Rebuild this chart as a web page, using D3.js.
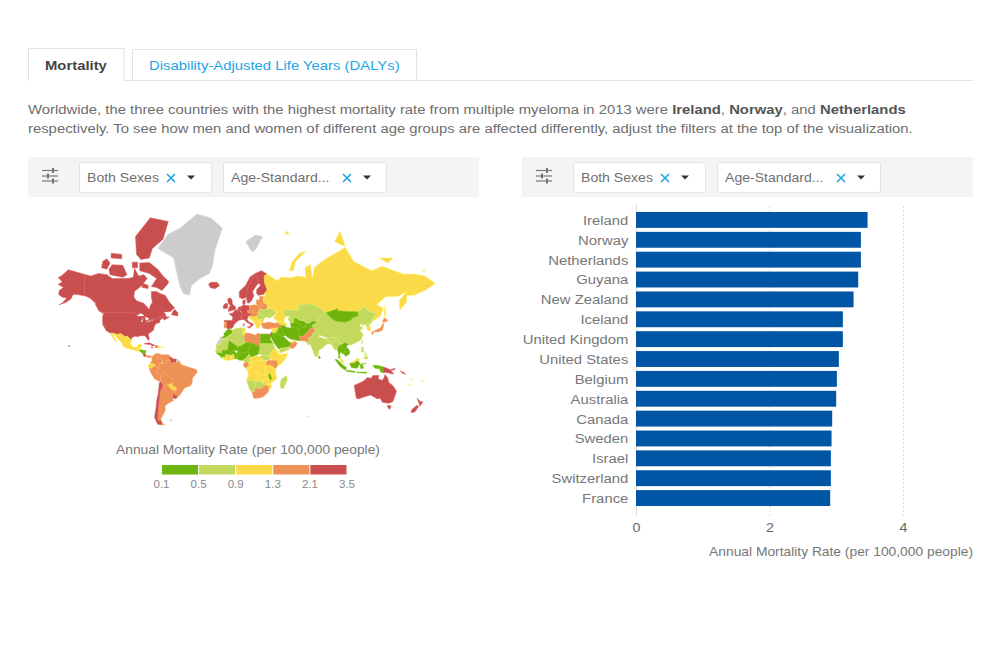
<!DOCTYPE html>
<html>
<head>
<meta charset="utf-8">
<script src="https://cdnjs.cloudflare.com/ajax/libs/d3/7.8.5/d3.min.js"></script>
<style>
  body { margin: 0; background: #fff; }
  svg { display: block; }
  text { font-family: "Liberation Sans", Arial, sans-serif; }
</style>
</head>
<body>
<svg id="chart" width="1000" height="650"></svg>
<script>
/* global d3 */

// bar chart values
var countries = ["Ireland", "Norway", "Netherlands", "Guyana", "New Zealand", "Iceland", "United Kingdom",
  "United States", "Belgium", "Australia", "Canada", "Sweden", "Israel", "Switzerland", "France"];
var rates = [3.47, 3.37, 3.37, 3.33, 3.26, 3.10, 3.10, 3.04, 3.01, 3.00, 2.94, 2.93, 2.92, 2.92, 2.91];
var barTicks = [0, 2, 4];

// map legend
var legendBreaks = [0.1, 0.5, 0.9, 1.3, 2.1, 3.5];
var legendColors = ["#6eb40f", "#c2d85f", "#fbda4a", "#ee9156", "#c94f50"];
var noDataColor = "#cccccc";

var axisTitle = "Annual Mortality Rate (per 100,000 people)";

// map: [name, rate bin value (null = no data), outline rings as "lon,lat" strings]
var northAmerica = [
  ["Greenland", null, "-72,77.5 -62,80.5 -51,81.5 -35,83.5 -22,83 -11,81.5 -18,77 -20,73 -23,70 -32,68 -40,65 -42,60 -48,61 -51,64.5 -54,70 -57,75"],
  ["United States", 3.04, "-123,49 -95,49 -88,48 -84.5,46.5 -82.5,45.5 -83,42 -79,43 -75,45 -71,45 -69.5,47.3 -67,45.2 -70,43.5 -70,41.7 -74,40.5 -75.5,37.5 -76,35 -81,31.5 -80,27 -80.5,25.2 -82,27 -84,30 -89,30 -90,29 -94,29.5 -97,27.5 -97,25.8 -101,29.7 -103,29 -106.5,31.7 -111,31.3 -114.8,32.5 -117,32.5 -120.5,34.5 -124,40 -124,46",
    "-141,69.6 -148,70.4 -156.5,71.3 -163,69 -166,68.4 -162,66.5 -166,65.5 -161,64 -165,62.5 -165.5,60.5 -162,59 -158,58.5 -162,55.5 -165,54.5 -159,55.8 -154,58 -152,60.5 -148,60.5 -144,60 -139,59.5 -135,58 -131,55.5 -130,56 -134,58.5 -137.5,59 -141,60.3",
    "-156,20.2 -155,20 -155.5,19 -156,19.3"],
  ["Canada", 2.94, "-141,69.6 -135,69 -128,70 -120,69.5 -115,68 -108,68 -100,68 -95,68.5 -94,71.8 -90,69 -85,69.5 -82,68 -87,65 -94,62 -94.5,59 -92,57 -85,55.3 -82,53 -80,51.3 -79,54 -77,56 -78,59 -78,62 -73,62 -70,61 -65,60 -61,56 -56,52.5 -60,50 -67,49.5 -65,48.5 -64,46 -61,46 -66,43.5 -67,45.2 -69.5,47.3 -71,45 -75,45 -79,43.5 -83,42 -82.5,45.5 -88,48 -95,49 -123,49 -128,51 -131,55 -130,56 -134,58.5 -137.5,59 -141,60.3",
    "-62,66 -68,62.5 -73,64 -78,64.5 -73,68 -80,70 -89,71 -89,73.5 -80,73.7 -72,71.5 -67,69 -62,67",
    "-117,69.5 -105,68.5 -101,69.5 -105,72.8 -115,73 -118,71.5",
    "-125,72 -120,71.5 -117,73.5 -120,74.8 -124,74",
    "-93,80 -79,83 -62,82.5 -67,79.5 -77,77.5 -80,75 -88,74.6 -92,76",
    "-116,75 -106,74.8 -106,76 -116,76.3",
    "-96,72 -91,72 -91,73.8 -96,73.8",
    "-87,64 -81,63.5 -81,65 -86,66",
    "-59,47.7 -53,46.7 -53,49 -56,51.5 -58,49.5",
    "-128,50.7 -123.5,48.4 -125,50"],
  ["Mexico", 1.1, "-117,32.5 -114.8,32.5 -111,31.3 -106.5,31.7 -103,29 -101,29.7 -97,25.8 -97.8,22 -95,18.6 -91,18.7 -90.5,21 -87,21.5 -88,18 -89,17.8 -91,17.2 -92,14.5 -95,16 -101,17.3 -105.5,20 -105.5,22.5 -109,26 -113,31 -114.7,31 -112,27 -109.7,23 -112,25 -115,29"],
  ["Guatemala", 1.0, "-92,14.5 -91,17.2 -89,17.8 -88.5,16 -89.3,14.4"],
  ["Honduras", 0.3, "-89.3,14.4 -88.2,15.8 -83.2,15 -87,13"],
  ["Nicaragua", 0.4, "-87.5,13 -83.2,15 -83.7,11 -85.7,11"],
  ["Costa Rica", 2.3, "-85.7,11 -83.7,11 -82.6,9.5 -85,8.5"],
  ["Panama", 1.6, "-82.9,9.5 -79.5,9.6 -77.3,8.5 -78,7.5 -80.5,7.5 -82.9,8.2"],
  ["Cuba", 2.4, "-85,22 -80,23.2 -74.2,20.2 -77.5,19.9 -78,21"],
  ["Haiti", 2.2, "-74.4,18.4 -72,18 -72,20 -73.5,20"],
  ["Dominican Republic", 1.1, "-72,18 -68.5,18.5 -70,19.8 -72,20"],
  ["Jamaica", 2.3, "-78.3,18.5 -76.3,18.2 -76.3,17.8 -78.3,18"],
  ["Puerto Rico", 1.2, "-67.3,18.5 -65.6,18.5 -65.6,17.9 -67.3,17.9"]
];

var southAmerica = [
  ["Colombia", 1.5, "-77.3,8.5 -75,11 -72,12.3 -71.3,11 -72.5,7.5 -67.5,6 -67.8,2 -70,1 -69.8,-4.2 -73,-2.3 -75,0 -79,1.5 -77.5,4"],
  ["Venezuela", 1.6, "-72,12 -68,10.6 -62,10.7 -60,8.5 -61,5.2 -64,4 -64,1.5 -67,1 -67.5,6 -72.5,7.5 -71.3,11"],
  ["Guyana", 3.33, "-60,8.5 -57.2,6 -58,2 -60,1.2 -60,5 -61,5.2"],
  ["Suriname", 2.4, "-57.2,6 -54,5.9 -54.5,2.3 -58,2"],
  ["French Guiana", null, "-54,5.9 -51.6,4.2 -53,2.2 -54.5,2.3"],
  ["Ecuador", 1.1, "-79,1.5 -75,0 -75.3,-1.5 -78,-4.5 -80.3,-3.4 -81,-1"],
  ["Peru", 1.5, "-80.3,-3.4 -78,-4.5 -75.3,-1.5 -73,-2.3 -69.9,-4.2 -73,-7 -73,-9.5 -69.5,-11 -69,-16 -70.4,-18.3 -75,-15.5 -79,-8"],
  ["Bolivia", 1.5, "-69.5,-11 -65.4,-9.7 -60,-13.5 -58,-17 -58,-20 -62.6,-22 -67,-23 -69,-19 -69,-16"],
  ["Paraguay", 1.2, "-62.6,-22 -58,-20 -58,-22 -54.5,-24 -54.6,-27 -58.5,-27.2"],
  ["Brazil", 1.7, "-60,5 -60,1.2 -58,2 -54.5,2.3 -53,2.2 -51.6,4.2 -50,0 -44,-2.5 -37,-5 -35,-6 -35,-9 -39,-14 -39.5,-19 -41,-22.5 -47,-25 -48.5,-28 -52,-32.5 -53.5,-33.7 -57.6,-30.2 -54,-27 -54.6,-25 -54.5,-24 -58,-22 -58,-17 -60,-13.5 -65.4,-9.7 -69.5,-11 -73,-9.5 -73,-7 -69.9,-4.2 -70,1 -67,1 -64,1.5 -64,4 -61,5.2"],
  ["Uruguay", 2.5, "-57.6,-30.2 -53.5,-33.7 -55,-35 -58.4,-34"],
  ["Argentina", 1.9, "-67,-23 -62.6,-22 -58.5,-27.2 -54.6,-27 -57.6,-30.2 -58.4,-34 -57,-36.5 -62,-39 -65,-41 -65,-45 -69,-51 -68.5,-53 -65.5,-55 -68.5,-54.8 -72,-52 -72,-48 -71.5,-42 -70.5,-35 -70,-29 -68.5,-24.5"],
  ["Chile", 2.4, "-69.5,-18 -69,-19 -67,-23 -68.5,-24.5 -70,-29 -70.5,-35 -71.5,-42 -72,-48 -72,-52 -68.5,-52.5 -68.5,-54.8 -72,-54.5 -75,-50 -73.5,-42 -73,-37 -71.5,-30 -70.5,-20"],
  ["Falkland Islands", null, "-61,-51.5 -58,-51.5 -58,-52.3 -61,-52.3"]
];

var europe = [
  ["Iceland", 3.10, "-24,65.5 -22,66.4 -16,66.4 -13.6,65 -18,63.4 -22.5,64"],
  ["Svalbard", null, "11,79 20,80.3 27,80 20,77 17,76.6"],
  ["Norway", 3.37, "5,59 5,62 11,65 15,68.5 20,70 26,71 31,69.8 28.5,69 25,69 21,69 18,68.5 14,65 12,61.5 11.5,59 8,58"],
  ["Sweden", 2.93, "11.5,59 12,61.5 14,65 18,68.5 21,69 24,66 22,65.5 17.5,62 18.8,59.8 16.5,57 14.3,55.5 12.8,55.5"],
  ["Finland", 2.6, "21,69 25,69 28.5,69 29,66 31.5,62.8 28,60.5 23,60 21.3,61 21.5,63 25,65 24,66"],
  ["Denmark", 2.8, "8.2,57 10.5,57.6 10.8,55.5 9.5,54.8 8.3,55"],
  ["United Kingdom", 3.10, "-5.5,50 1.5,51.3 1.5,53 -1.5,55 -2,57.5 -3.5,58.6 -6,58 -5,55 -3,54 -4.5,53 -5,51.7"],
  ["Ireland", 3.47, "-10,52 -6.2,52.2 -6,54 -6,55.2 -8.2,55.2 -10,54"],
  ["France", 2.91, "1.5,51 8.2,49 7.5,47.5 6,46.2 7.5,44 4,43.2 3,42.4 -1.7,43.3 -1,46 -4.7,48.4 -1.6,48.7"],
  ["Spain", 2.3, "-9.2,43.2 -1.7,43.3 3,42.4 0,40 -0.7,38 -2,36.8 -5.5,36 -7.4,37.2 -6.8,41.9 -8.8,41.9"],
  ["Portugal", 1.9, "-8.8,41.9 -6.8,41.9 -7.4,37.2 -9,37 -9.5,38.8"],
  ["Netherlands", 3.37, "3.5,51.5 4.7,53 7.1,53.3 6.1,50.8"],
  ["Belgium", 3.01, "2.6,51 3.5,51.5 6.1,50.8 5.8,49.5"],
  ["Germany", 2.7, "6.1,50.8 7.1,53.3 9,54.8 11,54 14.2,53.9 15,51 12.2,50.3 13.8,48.7 10,47.5 7.5,47.6 8.2,49"],
  ["Switzerland", 2.92, "6,46.2 7.5,47.6 10,47.5 10,46.3 8,46"],
  ["Austria", 2.6, "10,47.5 13.8,48.7 17,48.7 16,46.7 10,46.5"],
  ["Italy", 2.7, "7,44 7,45.8 10,46.7 13.7,46.5 12.3,44.3 14,42 18.5,40.2 16.6,38 15.7,38 15.7,40 12,41.8 10,43.8",
    "12.5,38 15.5,38.2 15,36.7", "8.3,39 9.7,41 9.6,39"],
  ["Czech Republic", 1.8, "12.2,50.3 15,51 18.8,49.6 17,48.7 13.8,48.7"],
  ["Poland", 1.7, "14.2,53.9 19,54.4 23.5,54 24,50.5 22.5,49.1 18.8,49.6 15,51"],
  ["Baltic States", 1.7, "21,56 21.5,57.5 24,57.2 24,59.4 28,59.4 27.5,57.5 28,56 26,54 23.5,54 21,55"],
  ["Belarus", 1.6, "23.5,54 26,54 28,56 31,55 32,53 30.5,51.4 24,51.5"],
  ["Ukraine", 0.8, "24,50.5 24,51.5 30.5,51.4 34,52.3 40,49.7 38,47 35,46 33.5,44.5 32,46 30,45.5 28.5,45.5 26,48 22.5,48.2 22.5,49.1"],
  ["Hungary", 1.6, "17,48.7 18.8,49.6 22.5,49.1 22.5,48.2 21,46.2 16.5,46 16,46.7"],
  ["Romania", 0.8, "21,46.2 22.5,48.2 26,48 28.5,45.5 28.5,43.8 23,43.8"],
  ["Bulgaria", 1.1, "23,43.8 28.5,43.8 27.5,42 23,41.4"],
  ["Balkans", 1.1, "13.7,46.5 16,46.7 16.5,46 21,46.2 23,43.8 23,41.4 26,41 24,38 23,36.5 21.5,37 19.5,41 18.5,42.5 15,44.5"]
];

var africa = [
  ["Morocco", 0.3, "-13,27.7 -9,30 -9.8,31.5 -6,35.8 -2,35.1 -1.2,32.5 -5,30 -8.7,27.7"],
  ["Western Sahara", null, "-17,21 -13,21.3 -13,23 -12,26 -8.7,26 -8.7,27.7 -13,27.7 -15,24.5"],
  ["Algeria", 0.7, "-8.7,27.7 -5,30 -1.2,32.5 -2,35.1 2,36.8 8.5,36.9 8.3,33 9.5,30 10,25 12,23.5 6,19.5 3.2,19 1,21 -4.8,25 -8.7,27"],
  ["Tunisia", 1.1, "8.5,36.9 11,37 10.2,34 11.5,32.5 9.5,30 8.3,33"],
  ["Libya", 1.7, "9.5,30 11.5,32.5 15,32.3 20,30.5 23,32.5 25,31.5 25,20 24,19.5 16,23 14,22.5 12,23.5 10,25"],
  ["Egypt", 0.4, "25,31.5 31,31.5 34.3,31.3 34.9,29.5 34,27 37,22 25,22"],
  ["Sudan", 0.7, "24,19.5 25,20 25,22 37,22 38.5,18 36.5,14.5 34,10 27,9.5 24,12 22.5,13 24,15.5"],
  ["South Sudan", 0.7, "24,9 27,9.5 34,10 34,4.5 27.5,5"],
  ["Eritrea", 1.1, "36.5,14.5 38.5,18 43,12.8 40,14.5"],
  ["Ethiopia", 1.1, "34,10 36.5,14.5 40,14.5 42.5,11 48,8 44,4.7 41,4 36,4.5 34,7"],
  ["Somalia", 1.1, "43,11 51,12 48,5 42,-1.5 41,2 41,4 44,4.7 48,8 42.5,11"],
  ["Kenya", 1.6, "34,4.5 36,4.5 41,4 41,2 41,-1.5 39.3,-4.6 34,-1"],
  ["Uganda", 1.6, "30,-1.2 30,2 31,3.7 34,4.5 34,-1"],
  ["Tanzania", 1.1, "30,-1 34,-1 39.3,-4.6 39.5,-10.2 35,-11.5 34,-9.5 31,-8.5 29.5,-6"],
  ["Mauritania", 0.7, "-17,16 -16.5,19 -17,21 -13,21.3 -13,23 -12,26 -8.7,26 -8.7,27 -4.8,25 -6,15.5 -12,15"],
  ["Mali", 0.4, "-12,15 -6,15.5 -4.8,25 1,21 3.2,19 4,15 0,15 -3,12.5 -5,10.5 -8,10.5 -11.5,12.4"],
  ["Senegal", 0.7, "-17.5,14.7 -16.5,16.5 -14,16.5 -12,15 -11.5,12.4 -16.7,12.4"],
  ["Guinea", 0.4, "-16.7,12.4 -11.5,12.4 -8,10.5 -8,8 -10.5,8.5 -13.3,9.5"],
  ["Sierra Leone", 0.4, "-13.3,9.5 -10.5,8.5 -11.4,6.9"],
  ["Liberia", 1.1, "-11.4,6.9 -8,8 -7.5,4.4"],
  ["Ivory Coast", 1.1, "-8,8 -8,10.5 -3,10 -3,5 -7.5,4.4"],
  ["Burkina Faso", 0.4, "-5,10.5 -3,12.5 0,15 2.4,12 0,11 -3,10"],
  ["Ghana", 1.1, "-3,10 0,11 1,6 -3,5"],
  ["Togo and Benin", 0.4, "0,11 2.4,12 3.6,11.5 2.8,6.3 1,6"],
  ["Niger", 0.3, "2.4,12 4,15 3.2,19 6,19.5 12,23.5 14,22.5 15.5,20 13.5,13.5 8,13 3.6,11.5"],
  ["Nigeria", 0.4, "2.8,6.3 3.6,11.5 8,13 13.5,13.5 14.5,11.5 11,6.5 8.5,4.6 5.5,4.5"],
  ["Chad", 0.4, "13.5,13.5 15.5,20 14,22.5 16,23 24,19.5 24,15.5 22.5,13 24,12 19,9 15.5,7.6 14.5,11.5"],
  ["Cameroon", 0.7, "8.5,4.6 11,6.5 14.5,11.5 15.5,7.6 14.5,5 16,2 9.8,2.3"],
  ["Central African Republic", 1.1, "14.5,5 15.5,7.6 19,9 24,9 27.5,5 19,3.5 16,2.5"],
  ["Gabon", 1.6, "9.8,2.3 13.5,2.2 14.5,-2 11,-4 8.7,-1"],
  ["Congo", 1.1, "13.5,2.2 16,2 18,3.5 16,-2 14,-4.5 12,-5 11,-4 14.5,-2"],
  ["DR Congo", 1.1, "18,3.5 19,3.5 27.5,5 31,3.7 30,2 29.5,-6 31,-8.5 28.5,-9 29.5,-12 26,-11.5 22,-11 22,-7 17,-7 16,-6 12.3,-6 14,-4.5 16,-2"],
  ["Angola", 1.1, "12.3,-6 13,-8.5 13.8,-11 11.8,-17.2 19,-17.3 23,-18 22,-11 22,-7 17,-7 16,-6"],
  ["Zambia", 1.1, "22,-11 26,-11.5 29.5,-12 28.5,-9 31,-8.5 34,-9.5 33,-14 30,-15.5 26,-17.8 23,-18"],
  ["Mozambique", 1.1, "35,-11.5 39.5,-10.2 40.5,-15 34.8,-20 35.5,-24 32.8,-26.5 32,-24 33,-19 30.4,-16 33,-14 34.3,-16.5 35.7,-16 34.5,-11"],
  ["Malawi", 0.4, "33,-9.5 34.5,-11 35.7,-16 34.3,-16.5 33,-14"],
  ["Zimbabwe", 1.1, "26,-17.8 30,-15.5 33,-16 33,-19 31,-22.3 29,-22"],
  ["Namibia", 0.7, "11.8,-17.2 19,-17.3 23,-18 25,-17.8 20,-18.5 20,-28 17,-28.7 15,-27"],
  ["Botswana", 0.7, "20,-18.5 25,-17.8 29,-22 25.5,-25.5 20,-25"],
  ["South Africa", 1.7, "17,-28.7 20,-28 20,-25 25.5,-25.5 29,-22 32,-22.3 32.8,-26.5 32.5,-28.5 28,-33 25,-34 20,-34.8 18.3,-34"],
  ["Madagascar", 0.7, "49.3,-12 50.5,-16 47,-25 44,-25 43.5,-21 44.5,-16"]
];

var asia = [
  ["Russia", 1.1, "28.5,69 31,69.8 41,67 44,68.5 54,68.3 60,69 68,68.5 67,72 72,73 74,68 76,72 81,73.5 88,75 105,77.7 113,74 130,71 140,72.5 160,69.7 170,69.8 180,69 190,66 187,64.8 180,62.5 170,60 163,60 163,56 156.5,51 156,57 163,62 155,59.5 143,59.3 135,54.7 141,52 138,46.5 132,43 131,45 135,48.5 127,50 123,53.5 117,49.7 108,50 98,50.5 98,52 87,49 77,54 69,55.3 61,54 61,51 55,50.7 51,51.5 47,50 47,48 49,46.5 47,43 48,41.8 46,42 40,43.5 37,45 39,47 40,49.7 34,52.3 32,53 31,55 28,56 27.5,57.5 28,59.4 30,60 28,60.5 31.5,62.8 29,66",
    "52,71 56,71 58,74 68,76.8 62,76.3 55,74", "95,79 105,78 100,81", "48,80.5 52,80.5 50,81", "137,75 150,75 145,73.5", "178,71.3 181,71 178,70.8", "142,54 143.5,49 142,46 142,50"],
  ["Turkey", 1.7, "26,40 26.5,42 28,41 33,42 38,41 41.5,41.5 44.5,39.7 44.8,37.2 36,36.6 32,36 27.5,36.8"],
  ["Caucasus", 1.1, "40,43.5 46,42 50,40.5 49,38.4 44.5,39.7 41.5,41.5"],
  ["Syria", 1.1, "36,36.6 42,37 41,34.3 36.5,32.5 35.7,34.5"],
  ["Iraq", 0.4, "42,37 44.8,37.2 46,34 48,30 46,29 42,31.5 39,32.5 41,34.3"],
  ["Jordan", 0.4, "35.5,32.5 39,32.5 37,30 35,29.5"],
  ["Israel", 2.92, "34.3,31.3 35,33.2 35.6,33 35.5,30 34.9,29.5"],
  ["Saudi Arabia", 0.3, "35,29.5 37,30 39,32.5 42,31.5 46,29 48,28.3 50,26 51.5,24.5 55,22.5 52,19 48,18 43.5,17.3 42.5,16.5 39,21 35,28"],
  ["Yemen", 0.7, "43,12.8 43.5,17.3 48,18 52,19 53,16.6 45,13"],
  ["Oman", 1.6, "52,19 55,22.5 56.4,24.9 58.7,23.5 59.8,22.5 57.8,19 55,17"],
  ["United Arab Emirates", 1.1, "51.5,24.5 55,22.5 56.4,24.9 54,24.2"],
  ["Iran", 0.4, "44.5,39.7 48,38.5 50,37.3 54,36.9 56,38 61,36.5 61,31.5 63,27 61.5,25 57,26 54,26.5 51,28 49,30 48,30 46,34 44.8,37.2"],
  ["Afghanistan", 0.3, "61,36.5 64.5,37.3 71,38.3 74.8,37.3 71,36 69.5,33 66.5,31 66,29.5 61,29.5 61,31.5"],
  ["Pakistan", 1.6, "61.5,25 63,27 61,29.5 66,29.5 66.5,31 69.5,33 71,36 74.8,37.3 77.5,35.5 74.5,32 74,30 70,27 71,24.3 68,23.7 67,24.8"],
  ["Turkmenistan", 0.4, "53,41.5 56,41.3 58,42.5 61,41 64.5,38.5 66.5,37.5 64.5,37.3 61,36.5 56,38 54,36.9 53.8,39"],
  ["Uzbekistan", 0.4, "56,41.3 56,45 58.5,45.5 62,43.5 66,43 68,41 71,41 70,39.8 67.5,39.5 66.5,37.5 64.5,38.5 61,41 58,42.5"],
  ["Kyrgyzstan and Tajikistan", 0.4, "68,41 71,41 74,43 80,42.3 76,40.3 73.8,39.5 74.8,37.3 71,38.3 67.7,37 67.5,39.5"],
  ["Kazakhstan", 0.7, "47,50 51,51.5 55,50.7 61,51 61,54 69,55.3 77,54 87,49 83,47 80,45 80,42.3 74,43 71,41 68,41 66,43 62,43.5 58.5,45.5 56,45 56,41.3 53,41.5 51,44.5 53,46.5 49,46.5 47,48"],
  ["China", 0.7, "74,39 80,42.3 80,45 83,47 87,49 91,45.5 96,42.7 105,41.8 111,43.7 111,45 117,46.7 117,49.7 123,53.5 127,50 135,48.5 131,45 130.5,42.5 124.5,40 121,39 121,41 118,39 122,37 119,35 122,31 120,26 114,22.5 110,20.5 108,21.6 105,23 102,21.5 99,23 98,28 92,28 88,28 81,30.5 78.5,33 74.8,37"],
  ["Mongolia", 0.3, "87,49 98,52 98,50.5 108,50 117,49.7 117,46.7 111,45 111,43.7 105,41.8 96,42.7 91,45.5"],
  ["North Korea", 0.7, "124.5,40 130.5,42.5 129.7,41 127.5,39.8 128.3,38.5 125,37.8"],
  ["South Korea", 1.1, "125,37.8 128.3,38.5 129.4,35.5 126.5,34.4"],
  ["Japan", 1.7, "130.9,34 136,33.5 140,35 141,38 141.5,41.2 139.9,40 138.5,37.3 135.5,35.6", "130,33.5 131.7,33.5 131,31 130,31.5", "140,42 141.8,45.4 145.3,43.3 143,42"],
  ["Taiwan", 0.7, "120.2,23 121,25.2 121.8,24.8 120.9,22"],
  ["India", 0.7, "68,23.7 71,24.3 70,27 74,30 74.5,32 77.5,35.5 78.5,33 81,30.5 80,28.7 88,26.5 88,28 92,28 97,28.3 94,23.5 92,23 91.5,25 88.5,25 88.8,22 87,21 82,16.5 80,15 80,12 78,8.2 76.5,9 73,19 72.5,21 70,21"],
  ["Bangladesh", 0.7, "88.5,25 91.5,25 92,21 90,22 88.8,22"],
  ["Sri Lanka", 0.3, "80,9.7 81.8,7.5 80.5,6 79.8,7.5"],
  ["Myanmar", 0.7, "92,23 94,23.5 97,28.3 98,28 99,23 101,21 98.5,19 98,16 99,10 98,14 97,16.5 95,16 94,18 92.5,20.5"],
  ["Thailand", 0.4, "98,16 98.5,19 100,20.4 102,18 104.5,17.5 105.5,14.5 102.5,12 100.8,13.3 99.5,11 100,8 101,6.6 100,6.5 98.5,8 99,10"],
  ["Laos and Vietnam", 0.4, "102,21.5 105,23 108,21.6 106,19 109,15 109.2,11.5 105,8.7 104.8,10.3 102.5,12 105.5,14.5 104.5,17.5 102,18 100,20.4"],
  ["Malaysia", 1.1, "100,6.5 101,6.6 103.4,4 104,1.4 101.3,2.8", "109.7,1.6 113,3.2 116.7,7 119,5 117,4 113,1.4"],
  ["Indonesia", 0.4, "95.3,5.6 97.5,5.2 103.5,-1 106,-3 105.8,-5.8 104,-5.5 100,-2",
    "105.3,-6.5 108.5,-6.5 114.5,-7.6 114.5,-8.6 106.5,-7.5",
    "109,1.5 113,1.4 117,4 119,1 116.3,-4 111,-3.5 110,-1",
    "119.5,0.5 125,1.5 121,0 122.9,-4.5 121,-3 120.5,-5.5 119.4,-3.5",
    "131,-1 134,-0.8 138,-1.6 141,-2.6 141,-9 138,-8 138,-5 133,-4",
    "116,-8.3 125,-8.2 125,-9.5 116,-9"],
  ["Philippines", 0.7, "120,18.5 122.2,18.4 122,15 124,13 120.5,13.8", "122,7 125.5,9.7 126.5,7 125.3,5.7", "122,10 125,12.5 125,10.5"]
];

var oceania = [
  ["Papua New Guinea", 2.4, "141,-2.6 145,-4.3 148,-6 150.7,-10.5 147,-9.5 143.5,-8.5 141,-9", "148,-5.5 152,-4.2 152,-5.5 149,-6.3"],
  ["Solomon Islands", 2.3, "157,-7 160,-8.5 162,-10.5 159,-9.5"],
  ["Vanuatu", 1.1, "166.5,-15 168,-16 168,-17 166.8,-16"],
  ["New Caledonia", 1.1, "164,-20 167,-22 166.5,-22.3 164,-20.6"],
  ["Fiji", 1.1, "177.3,-17.5 178.7,-17.5 178.7,-18.3 177.3,-18.3"],
  ["Australia", 3.00, "113.5,-22 114,-26 115.5,-34.5 118,-35 124,-33 129,-31.5 135,-35 138,-34.5 140,-38 146,-39 150,-37.5 153.5,-28 150,-22.5 146,-19 145.3,-15 142.7,-10.9 141,-16 139,-17 136,-15 137,-12 131,-12 129.5,-15 126,-14 122,-18 117,-20.5", "144.7,-40.8 148.3,-41 147.5,-43.5 146,-43.5"],
  ["New Zealand", 3.26, "172.7,-34.5 176,-37.5 178.4,-37.8 175.5,-41.5 174.7,-39", "172.7,-40.6 174.3,-41.7 170.7,-45.9 167,-46.3 168,-44"],
  ["Kerguelen", null, "69,-49 70.5,-49 70.5,-49.8 69,-49.8"]
];

var lakes = [
  "-92,46.7 -88,48.7 -84.7,47 -87,46.5",
  "-87.8,42 -85.5,45.7 -86.5,42",
  "-84,46 -80,45 -82,43 -83.5,44",
  "-83.5,41.6 -79,42.8 -76,44 -76.3,43.4 -79.5,43.2 -79,42.3"
];

var svg = d3.select("#chart");

// the reference is stretched sideways, so text is widened by the same factor
var stretch = 1.1;
var mapStretch = 1.156;

svg.append("defs").append("filter").attr("id", "soft")
  .append("feGaussianBlur").attr("stdDeviation", 0.35);

function label(parent, x, y, str, size, color, anchor, weight) {
  return parent.append("text")
    .attr("transform", "translate(" + x + "," + y + ") scale(" + stretch + ",1)")
    .attr("font-size", size)
    .attr("fill", color)
    .attr("text-anchor", anchor || "start")
    .attr("font-weight", weight || "normal")
    .text(str);
}

// tabs
var tabs = svg.append("g").attr("fill", "none").attr("stroke", "#e2e2e2");
tabs.append("path").attr("d", "M28.5,81V48.5H124V81M124,80.5H973");
tabs.append("path").attr("d", "M132.5,81V49.5H416.5V81");
label(svg, 45, 70, "Mortality", 13.5, "#444444", "start", "bold");
label(svg, 149, 70, "Disability-Adjusted Life Years (DALYs)", 13.5, "#1fa5e5");

// intro text
var line1 = label(svg, 28, 114, "Worldwide, the three countries with the highest mortality rate from multiple myeloma in 2013 were ", 13.5, "#6e6e6e");
[["Ireland", true], [", ", false], ["Norway", true], [", and ", false], ["Netherlands", true]].forEach(function(part) {
  line1.append("tspan").attr("font-weight", part[1] ? "bold" : "normal").attr("fill", part[1] ? "#555555" : "#6e6e6e").text(part[0]);
});
label(svg, 28, 133, "respectively. To see how men and women of different age groups are affected differently, adjust the filters at the top of the visualization.", 13.5, "#6e6e6e");

// filter bars
function filterBar(x0) {
  var g = svg.append("g").attr("transform", "translate(" + x0 + ",157)");
  g.append("rect").attr("width", 451).attr("height", 40).attr("fill", "#f4f4f4");

  var icon = g.append("g").attr("stroke", "#777777").attr("stroke-width", 1.2);
  [[13.5, 25], [19, 20], [24, 25]].forEach(function(s) {
    icon.append("line").attr("x1", 14).attr("x2", 30).attr("y1", s[0]).attr("y2", s[0]);
    icon.append("line").attr("x1", s[1]).attr("x2", s[1]).attr("y1", s[0] - 2.5).attr("y2", s[0] + 2.5).attr("stroke-width", 2);
  });

  [[51, 132, "Both Sexes", 143], [195, 163, "Age-Standard...", 319]].forEach(function(b) {
    g.append("rect").attr("x", b[0] + 0.5).attr("y", 5.5).attr("width", b[1]).attr("height", 30)
      .attr("rx", 2).attr("fill", "#fff").attr("stroke", "#e4e4e4");
    label(g, b[0] + 8, 25, b[2], 12.8, "#707070");
    g.append("path").attr("d", "M" + (b[3] - 4) + ",17l8,8m0,-8l-8,8").attr("stroke", "#1fa5e5").attr("stroke-width", 1.6).attr("fill", "none");
    g.append("path").attr("d", "M" + (b[3] + 16) + ",18.5h8l-4,4z").attr("fill", "#333333");
  });
}
filterBar(28);
filterBar(522);

// map
var projection = d3.geoProjection(function(lambda, phi) {
  return [mapStretch * lambda, Math.log(Math.tan(Math.PI / 4 + phi / 2))];
})
  .rotate([-11, 0])
  .scale(52.5)
  .translate([245.65, 364.5])
  .precision(0);

var path = d3.geoPath(projection);

function parseRing(text) {
  var ring = text.split(" ").map(function(p) { return p.split(",").map(Number); });
  ring.push(ring[0]);
  var poly = { type: "Polygon", coordinates: [ring] };
  // d3 wants clockwise rings, otherwise the polygon covers the whole globe
  if (d3.geoArea(poly) > 2 * Math.PI) ring.reverse();
  return poly;
}

function toFeature(row) {
  return {
    type: "Feature",
    properties: { name: row[0], rate: row[1] },
    geometry: { type: "MultiPolygon", coordinates: row.slice(2).map(function(r) { return parseRing(r).coordinates; }) }
  };
}

var colorScale = d3.scaleThreshold().domain(legendBreaks.slice(1, -1)).range(legendColors);

function rateColor(rate) {
  return rate === null ? noDataColor : colorScale(rate);
}

var land = [].concat(northAmerica, southAmerica, europe, africa, asia, oceania).map(toFeature);

var map = svg.append("g").attr("class", "map").attr("filter", "url(#soft)");

map.selectAll("path.country")
  .data(land)
  .join("path")
  .attr("class", "country")
  .attr("d", path)
  .attr("fill", function(d) { return rateColor(d.properties.rate); })
  .attr("stroke", function(d) { return d3.color(rateColor(d.properties.rate)).brighter(0.25); })
  .attr("stroke-width", 0.5);

map.selectAll("path.lake")
  .data(lakes.map(parseRing))
  .join("path")
  .attr("class", "lake")
  .attr("d", path)
  .attr("fill", "#fff");

// legend
var legendX = d3.scalePoint().domain(legendBreaks).range([161.5, 347]);
var legend = svg.append("g");
label(legend, 248, 454, axisTitle, 12.55, "#777777", "middle");
legend.selectAll("rect")
  .data(legendColors)
  .join("rect")
  .attr("x", function(d, i) { return legendX(legendBreaks[i]) + 0.5; })
  .attr("width", function(d, i) { return legendX(legendBreaks[i + 1]) - legendX(legendBreaks[i]) - 1; })
  .attr("y", 465)
  .attr("height", 9.5)
  .attr("fill", function(d) { return d; });
legendBreaks.forEach(function(b) {
  label(legend, legendX(b), 488, b.toFixed(1), 10.5, "#888888", "middle");
});

// bars
var x = d3.scaleLinear().domain([0, 5.05]).range([636, 973]);
var y = d3.scaleBand().domain(countries).range([210, 508]).paddingInner(0.2).paddingOuter(0.1);

var grid = svg.append("g")
  .attr("transform", "translate(0,516)")
  .call(d3.axisBottom(x).tickValues(barTicks).tickFormat(d3.format("d")).tickSize(-312).tickPadding(7));
grid.select(".domain").remove();
grid.selectAll("line")
  .attr("stroke", "#dddddd")
  .attr("stroke-dasharray", function(d) { return d === 0 ? null : "2,2"; });
grid.selectAll("text")
  .attr("font-size", 13)
  .attr("font-family", '"Liberation Sans", Arial, sans-serif')
  .attr("fill", "#666666")
  .attr("transform", "scale(" + stretch + ",1)");

svg.append("g")
  .selectAll("rect")
  .data(rates)
  .join("rect")
  .attr("x", x(0))
  .attr("y", function(d, i) { return y(countries[i]); })
  .attr("width", function(d) { return x(d) - x(0); })
  .attr("height", y.bandwidth())
  .attr("fill", "#0055a5");

var yAxis = svg.append("g")
  .attr("transform", "translate(636,0.6)")
  .call(d3.axisLeft(y).tickSize(0).tickPadding(7));
yAxis.select(".domain").remove();
yAxis.selectAll("text")
  .attr("font-size", 13.5)
  .attr("font-family", '"Liberation Sans", Arial, sans-serif')
  .attr("fill", "#777777")
  .attr("transform", "scale(" + stretch + ",1)");

label(svg, 973, 556, axisTitle, 12.55, "#777777", "end");
</script>
</body>
</html>
